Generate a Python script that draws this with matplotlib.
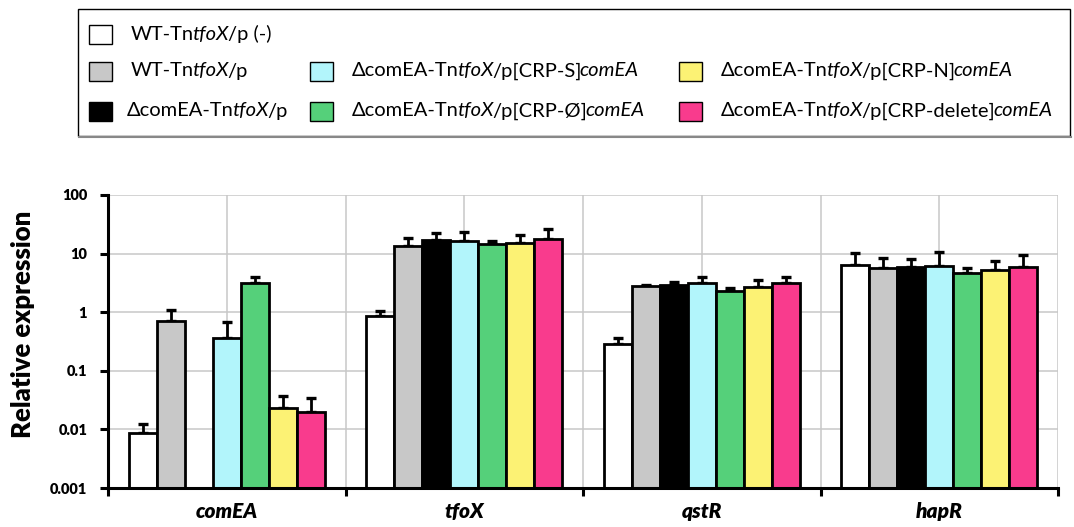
import matplotlib
matplotlib.use("Agg")
import matplotlib.pyplot as plt
from matplotlib.patches import Rectangle
import numpy as np

# Genes on the x axis and strains (one bar per strain in each gene group)
genes = ["comEA", "tfoX", "qstR", "hapR"]
strains = [
    [("WT-Tn", False), ("tfoX", True), ("/p (-)", False)],
    [("WT-Tn", False), ("tfoX", True), ("/p", False)],
    [("\u0394comEA-Tn", False), ("tfoX", True), ("/p", False)],
    [("\u0394comEA-Tn", False), ("tfoX", True), ("/p[CRP-S]", False), ("comEA", True)],
    [("\u0394comEA-Tn", False), ("tfoX", True), ("/p[CRP-\u00d8]", False), ("comEA", True)],
    [("\u0394comEA-Tn", False), ("tfoX", True), ("/p[CRP-N]", False), ("comEA", True)],
    [("\u0394comEA-Tn", False), ("tfoX", True), ("/p[CRP-delete]", False), ("comEA", True)],
]
colors = ["#ffffff", "#c8c8c8", "#000000", "#b2f5fb", "#55d07a", "#fcf274", "#f93b8d"]

# relative expression per strain, values in gene order
wt_neg = [0.0086, 0.86, 0.283, 6.4]
wt = [0.70, 13.3, 2.84, 5.7]
dcomea = [np.nan, 16.8, 2.88, 6.0]
crp_s = [0.37, 16.6, 3.11, 6.2]
crp_empty = [3.15, 14.6, 2.27, 4.7]
crp_n = [0.0235, 15.3, 2.69, 5.25]
crp_del = [0.020, 18.0, 3.15, 5.9]

wt_neg_err = [0.0036, 0.20, 0.075, 4.0]
wt_err = [0.39, 5.2, 0.10, 2.7]
dcomea_err = [np.nan, 5.4, 0.40, 2.0]
crp_s_err = [0.30, 6.5, 0.90, 4.3]
crp_empty_err = [0.90, 1.8, 0.30, 0.94]
crp_n_err = [0.014, 5.5, 0.90, 2.3]
crp_del_err = [0.014, 7.9, 0.80, 3.4]

values = [wt_neg, wt, dcomea, crp_s, crp_empty, crp_n, crp_del]
errors = [wt_neg_err, wt_err, dcomea_err, crp_s_err, crp_empty_err, crp_n_err, crp_del_err]

FONT = ["Lato", "DejaVu Sans"]

fig = plt.figure(figsize=(10.74, 5.27), dpi=100)
ax = fig.add_axes([108 / 1074, 1 - 488 / 527, 950 / 1074, 293 / 527])

x = np.arange(len(genes))
width = 0.118
for i, (vals, errs, c) in enumerate(zip(values, errors, colors)):
    pos = x + (i - 3) * width
    ax.bar(pos, vals, width, color=c, edgecolor="black", linewidth=2.0, zorder=3)
    ax.errorbar(pos, vals, yerr=[np.zeros(len(errs)), errs], fmt="none",
                ecolor="black", elinewidth=2.0, capsize=3.5, capthick=2.4, zorder=2)

ax.set_yscale("log")
ax.set_ylim(0.001, 100)
ax.set_xlim(-0.5, 3.5)
ax.set_yticks([0.001, 0.01, 0.1, 1, 10, 100])
ax.set_yticklabels(["0.001", "0.01", "0.1", "1", "10", "100"],
                   fontsize=10.5, fontweight="heavy", family=FONT)
ax.minorticks_off()
ax.set_xticks(np.arange(-0.5, 4, 1.0))
ax.set_xticklabels([])
ax.set_xticks(x, minor=True)
ax.set_xticklabels(genes, minor=True, fontsize=15, fontweight="heavy",
                   style="italic", family=FONT)
ax.tick_params(axis="x", which="minor", length=0, pad=10)
ax.tick_params(axis="both", which="major", length=6, width=2.2, direction="out")
ax.tick_params(axis="y", pad=9)

# gridlines at every half category and at each decade
for gx in np.arange(-0.5, 3.6, 0.5):
    ax.axvline(gx, color="#c8c8c8", linewidth=1.1, zorder=0)
for gy in [0.01, 0.1, 1, 10, 100]:
    ax.axhline(gy, color="#c8c8c8", linewidth=1.1, zorder=0)

for s in ["top", "right"]:
    ax.spines[s].set_visible(False)
for s in ["left", "bottom"]:
    ax.spines[s].set_linewidth(2.2)
    ax.spines[s].set_zorder(4)

ax.set_ylabel("Relative expression", fontsize=18.5, fontweight="heavy",
              family=FONT, va="center")
ax.yaxis.set_label_coords(-0.089, 0.56)

# legend drawn in pixel coordinates on an overlay axes
lax = fig.add_axes([0, 0, 1, 1], zorder=5)
lax.set_xlim(0, 1074)
lax.set_ylim(527, 0)
lax.axis("off")
lax.add_patch(Rectangle((78, 9), 992, 127, facecolor="none",
                        edgecolor="black", linewidth=1.0))
lax.plot([79, 1071], [137, 137], color="#888888", linewidth=1.5)

fig.canvas.draw()
renderer = fig.canvas.get_renderer()


def rich_text(x0, y0, parts, size=14.5):
    cx = x0
    for txt, italic in parts:
        if italic:
            cx -= 2
        t = lax.text(cx, y0, txt, fontsize=size, family=FONT,
                     style="italic" if italic else "normal", va="center", ha="left")
        bb = t.get_window_extent(renderer=renderer)
        cx += bb.width - (1 if italic else 0)


slots = [(0, 0), (0, 1), (0, 2), (1, 1), (1, 2), (2, 1), (2, 2)]
col_patch_x = [89, 310, 679]
row_y = [34, 71, 111]
for (col, row), parts, c in zip(slots, strains, colors):
    px = col_patch_x[col]
    py = row_y[row]
    lax.add_patch(Rectangle((px, py - 9.5), 23, 19, facecolor=c,
                            edgecolor="black", linewidth=1.0))
    rich_text(px + 42 if row < 2 or col > 0 else px + 38, py, parts)

fig.savefig("out.png", dpi=100)
